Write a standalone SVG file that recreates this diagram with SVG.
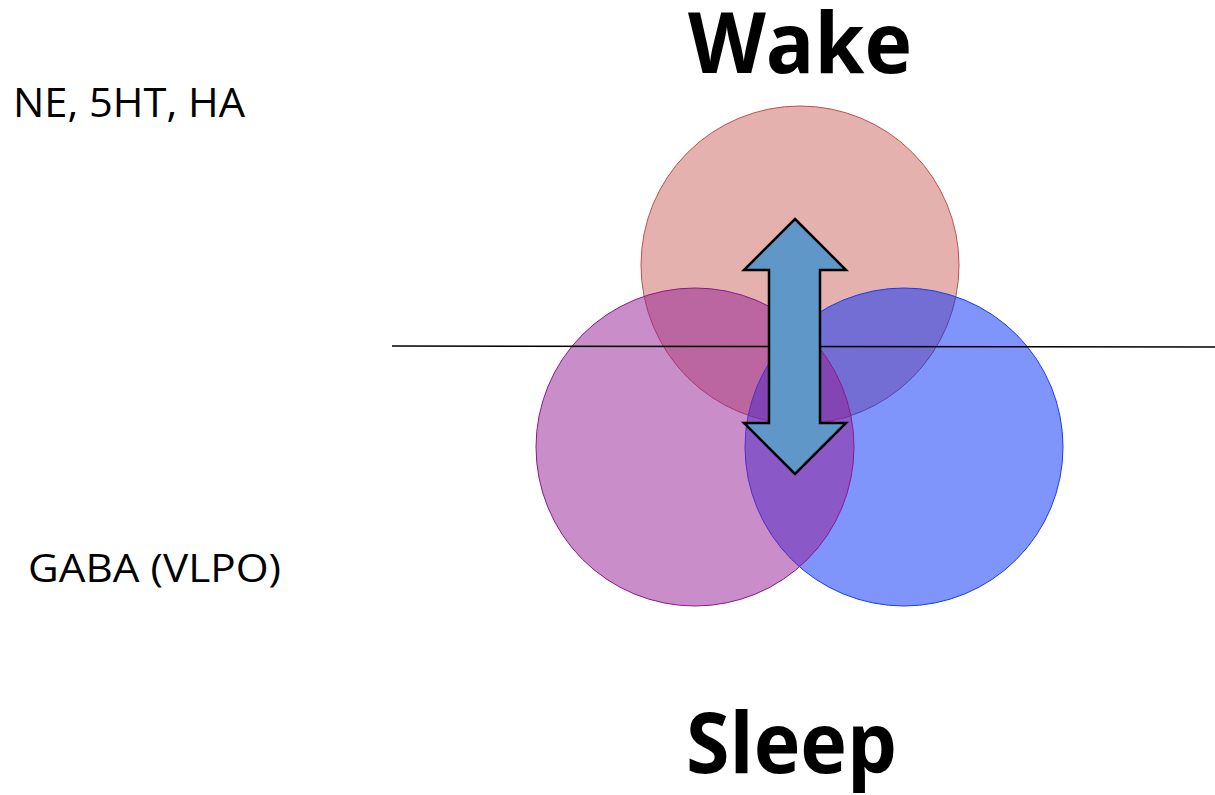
<svg xmlns="http://www.w3.org/2000/svg" width="1215" height="795" viewBox="0 0 1215 795">
  <style>
    .label { font-family: "Open Sans", "Liberation Sans", sans-serif; fill: #000; }
    .title { font-family: "Open Sans", "Liberation Sans", sans-serif; font-weight: bold; fill: #000; }
    .circle { stroke-width: 1; fill-opacity: 0.5; }
  </style>
  <rect width="1215" height="795" fill="#fff"/>

  <!-- labels -->
  <text class="title" x="688" y="73" font-size="84" textLength="224" lengthAdjust="spacingAndGlyphs">Wake</text>
  <text class="title" x="686" y="773" font-size="84" textLength="211" lengthAdjust="spacingAndGlyphs">Sleep</text>
  <text class="label" x="13" y="117" font-size="40" textLength="232" lengthAdjust="spacingAndGlyphs">NE, 5HT, HA</text>
  <text class="label" x="28" y="582" font-size="38" textLength="253" lengthAdjust="spacingAndGlyphs">GABA (VLPO)</text>

  <!-- overlapping circles -->
  <g id="wake-circle">
    <circle class="circle" cx="800" cy="265" r="159" fill="#C9635D" stroke="#C0504D"/>
  </g>
  <g id="blue-circle">
    <circle class="circle" cx="904" cy="447" r="159" fill="#012BF7" stroke="#1A3CF0"/>
  </g>
  <g id="sleep-circle">
    <circle class="circle" cx="695" cy="447" r="159" fill="#931B93" stroke="#8A1A8A"/>
  </g>

  <!-- divider and double arrow -->
  <g id="connectors">
    <line x1="392" y1="346" x2="1215" y2="347" stroke="#000" stroke-width="1.5"/>
    <polygon points="795,219 846,270 820,270 820,423 846,423 795,474 744,423 769,423 769,270 744,270"
             fill="#5F97C9" stroke="#000" stroke-width="2.5" stroke-linejoin="miter"/>
  </g>
</svg>
